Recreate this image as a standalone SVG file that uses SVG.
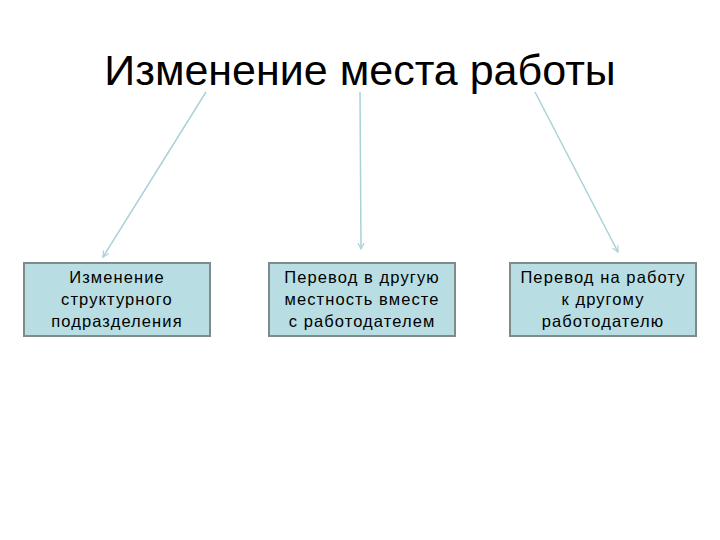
<svg xmlns="http://www.w3.org/2000/svg" width="720" height="540" viewBox="0 0 720 540">
<style>
.box{fill:#b8dde2;stroke:#7f8a8c;stroke-width:2}
.t{font-family:"Liberation Sans",Arial,sans-serif;font-size:16.5px;letter-spacing:1.1px;fill:#000;text-anchor:middle}
.c{stroke:#a9d2d8;stroke-width:1.5;fill:none;marker-end:url(#a)}
</style>
<defs><marker id="a" markerWidth="8" markerHeight="8" refX="6" refY="4" orient="auto" markerUnits="userSpaceOnUse"><path d="M0,1 L6,4 L0,7" fill="none" stroke="#a9d2d8" stroke-width="1.2"/></marker></defs>
<rect width="720" height="540" fill="#fff"/>
<text x="360" y="85" font-family="'Liberation Sans',Arial,sans-serif" font-size="43" text-anchor="middle">Изменение места работы</text>
<g id="connectors">
<line class="c" x1="206" y1="92" x2="103" y2="257"/>
<line class="c" x1="360" y1="92" x2="361" y2="249"/>
<line class="c" x1="535" y1="92" x2="618" y2="252"/>
</g>
<g id="n1"><rect class="box" x="24" y="263" width="186" height="73"/>
<text class="t" x="117" y="283">Изменение</text><text class="t" x="117" y="305">структурного</text><text class="t" x="117" y="327">подразделения</text></g>
<g id="n2"><rect class="box" x="269" y="263" width="186" height="73"/>
<text class="t" x="362" y="283">Перевод в другую</text><text class="t" x="362" y="305">местность вместе</text><text class="t" x="362" y="327">с работодателем</text></g>
<g id="n3"><rect class="box" x="510" y="263" width="186" height="73"/>
<text class="t" x="603" y="283">Перевод на работу</text><text class="t" x="603" y="305">к другому</text><text class="t" x="603" y="327">работодателю</text></g>
</svg>
